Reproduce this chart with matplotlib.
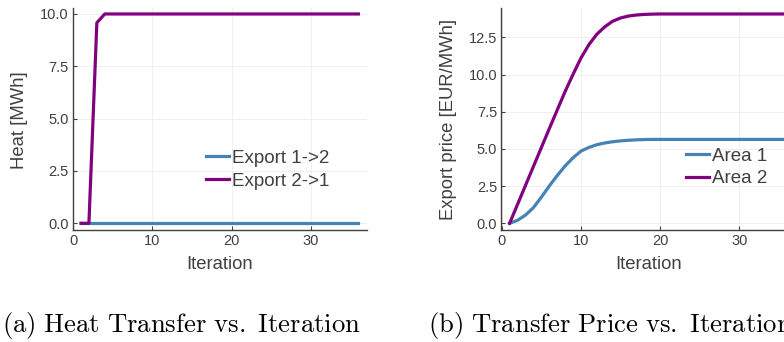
import matplotlib.pyplot as plt

plt.rcParams['font.family'] = ['Liberation Sans', 'DejaVu Sans']
plt.rcParams['mathtext.fontset'] = 'cm'

# iteration results
iterations = list(range(1, 37))
export_12 = [0.0] * 36
export_21 = [0.0, 0.0, 9.58] + [10.0] * 33
price_area1 = [0.0, 0.2, 0.55, 1.05, 1.75, 2.5, 3.2, 3.85, 4.4, 4.85,
               5.1, 5.28, 5.4, 5.48, 5.54, 5.58, 5.61, 5.63] + [5.64] * 18
price_area2 = [0.0, 1.27, 2.54, 3.81, 5.08, 6.35, 7.6, 8.85, 10.0, 11.1,
               12.0, 12.7, 13.2, 13.58, 13.8, 13.93, 14.0, 14.04, 14.06] + [14.07] * 17

blue = '#4682b4'
purple = '#800080'
axcol = '#404040'


def pad_lim(vals):
    lo, hi = min(vals), max(vals)
    p = 0.03 * (hi - lo)
    return lo - p, hi + p


def style(ax, ylabel, yticks):
    for s in ['top', 'right']:
        ax.spines[s].set_visible(False)
    for s in ['left', 'bottom']:
        ax.spines[s].set_color(axcol)
        ax.spines[s].set_linewidth(1.0)
    ax.grid(True, color='#ececec', linewidth=0.6)
    ax.set_axisbelow(True)
    ax.tick_params(direction='in', length=3, width=0.8, color=axcol,
                   labelcolor=axcol, labelsize=10.5, pad=3)
    ax.set_xticks([0, 10, 20, 30])
    ax.set_yticks(yticks)
    ax.set_yticklabels([f'{t:.1f}' for t in yticks])
    ax.set_xlim(pad_lim(iterations))
    ax.set_xlabel('Iteration', fontsize=13.3, color=axcol)
    ax.set_ylabel(ylabel, fontsize=13.3, color=axcol)
    ax.xaxis.set_label_coords(0.5, -0.12)
    ax.yaxis.set_label_coords(-0.151, 0.495)


fig = plt.figure(figsize=(7.84, 3.42), dpi=100)

ax1 = fig.add_axes([0.0927, 0.3287, 0.375, 0.6488])
ax1.plot(iterations, export_12, color=blue, lw=2.3, label='Export 1->2')
ax1.plot(iterations, export_21, color=purple, lw=2.3, label='Export 2->1')
style(ax1, 'Heat [MWh]', [0, 2.5, 5.0, 7.5, 10.0])
ax1.set_ylim(pad_lim(export_12 + export_21))
ax1.legend(loc='center left', bbox_to_anchor=(0.2628, 0.504),
           bbox_transform=fig.transFigure, frameon=False, fontsize=13.5,
           borderpad=0, borderaxespad=0, handlelength=1.25,
           handletextpad=0.15, labelspacing=0.3, labelcolor=axcol)

ax2 = fig.add_axes([0.6394, 0.3287, 0.3748, 0.6488])
ax2.plot(iterations, price_area1, color=blue, lw=2.3, label='Area 1')
ax2.plot(iterations, price_area2, color=purple, lw=2.3, label='Area 2')
style(ax2, 'Export price [EUR/MWh]', [0, 2.5, 5.0, 7.5, 10.0, 12.5])
ax2.set_ylim(pad_lim(price_area1 + price_area2))
ax2.legend(loc='center left', bbox_to_anchor=(0.875, 0.5102),
           bbox_transform=fig.transFigure, frameon=False, fontsize=13.5,
           borderpad=0, borderaxespad=0, handlelength=1.25,
           handletextpad=0.15, labelspacing=0.3, labelcolor=axcol)

fig.text(0.002, 0.0284, r'$\mathrm{(a)\ Heat\ Transfer\ vs.\ Iteration}$',
         fontsize=19.2, ha='left', va='baseline')
fig.text(0.546, 0.0284, r'$\mathrm{(b)\ Transfer\ Price\ vs.\ Iteration}$',
         fontsize=19.2, ha='left', va='baseline')

fig.savefig('out.png', dpi=100)
